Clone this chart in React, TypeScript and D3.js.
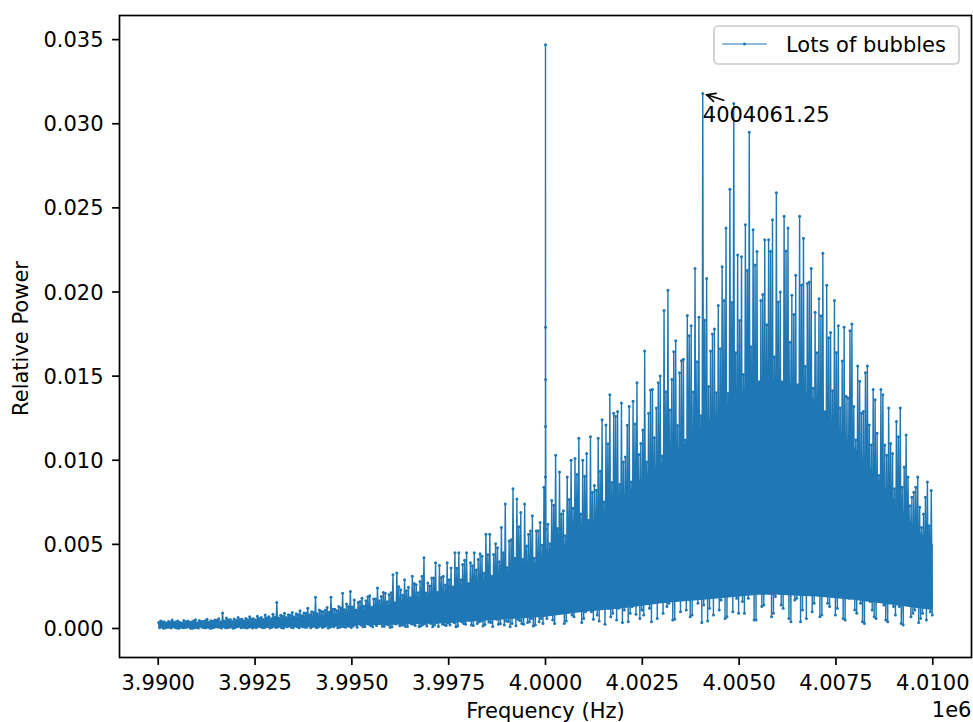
import React from 'react';
import * as d3 from 'd3';

// Sweep limits of the spectrum (Hz)
const sweepHz = [3990000, 4010000];
const binWidthHz = 100;
// Within each 100 Hz bin four samples are kept: an upper one, a lower one,
// the bin maximum and a second lower one, at these offsets (Hz)
const secHighOffsetHz = 11.25;
const troughOffsetHz = 36.25;
const peakOffsetHz = 61.25;
const secLowOffsetHz = 86.25;

// Bin maxima of relative power, units of 1e-3 (bin i starts at 3990000 + 100*i Hz)
const peakPower = [
  0.45, 0.38, 0.42, 0.5, 0.4, 0.36, 0.47, 0.44, 0.39, 0.52, 0.48, 0.41, 0.55, 0.46, 0.5, 0.58, 0.92, 0.62, 0.53, 0.57, 0.66, 0.55, 0.6, 0.7, 0.58,
  0.72, 0.65, 0.8, 0.7, 0.85, 1.55, 0.78, 0.9, 0.82, 0.95, 0.88, 1.05, 0.92, 1.2, 1.0, 1.85, 1.1, 0.98, 1.25, 1.85, 1.15, 1.3, 2.1, 1.45, 2.2,
  1.7, 1.55, 1.8, 1.65, 1.95, 1.75, 2.4, 1.9, 2.1, 2.0, 3.2, 3.3, 2.3, 2.9, 2.45, 3.1, 2.6, 2.8, 4.2, 2.7, 3.0, 3.9, 3.75, 3.1, 3.9,
  3.6, 4.5, 4.5, 3.8, 4.5, 3.9, 4.5, 4.1, 4.3, 5.6, 5.6, 4.4, 4.8, 6.0, 7.4, 5.2, 8.3, 7.7, 6.9, 7.4, 5.6, 6.7, 5.8, 6.3, 8.4,
  6.2, 7.6, 10.3, 9.3, 7.0, 9.0, 10.0, 10.1, 11.3, 10.0, 10.4, 11.4, 8.5, 11.3, 12.4, 12.1, 13.9, 12.8, 12.9, 13.4, 10.2, 13.2, 13.5, 14.6, 11.0,
  16.5, 12.8, 14.2, 13.1, 15.0, 18.9, 20.1, 14.8, 17.1, 15.2, 16.0, 18.6, 18.0, 21.4, 18.5, 31.8, 20.8, 16.5, 17.8, 19.2, 21.5, 23.8, 26.1, 31.2, 22.2,
  22.1, 24.0, 29.5, 23.7, 22.4, 19.5, 23.1, 23.1, 24.3, 25.9, 20.0, 24.5, 23.8, 19.8, 21.0, 24.5, 23.2, 20.5, 21.4, 18.8, 19.6, 22.3, 20.4, 17.6, 19.5,
  18.0, 15.9, 13.8, 17.7, 13.2, 15.6, 12.8, 15.2, 12.1, 14.2, 11.6, 14.2, 10.9, 13.1, 10.4, 12.3, 13.1, 9.6, 9.0, 7.8, 8.4, 7.2, 6.8, 8.7, 8.2,
];

// Second upper sample per bin, units of 1e-3
const secHighPower = [
  0.35, 0.4, 0.31, 0.38, 0.36, 0.44, 0.33, 0.39, 0.37, 0.45, 0.34, 0.41, 0.46, 0.37, 0.43, 0.49, 0.4, 0.45, 0.51, 0.42, 0.48, 0.54, 0.45, 0.52, 0.57,
  0.5, 0.6, 0.54, 0.64, 0.58, 0.68, 0.62, 0.73, 0.66, 0.78, 0.7, 0.83, 0.76, 0.9, 0.82, 0.95, 0.88, 1.02, 1.08, 0.96, 1.14, 1.05, 1.22, 1.12, 1.3,
  1.27, 1.1, 1.61, 1.32, 1.88, 1.26, 1.75, 1.65, 2.14, 1.59, 2.13, 1.53, 2.48, 1.97, 2.25, 1.82, 2.67, 2.12, 3.1, 2.11, 2.53, 3.0, 2.16, 3.03, 2.59,
  2.9, 2.47, 3.58, 2.9, 4.06, 2.68, 3.73, 3.47, 4.44, 3.29, 4.38, 3.11, 5.04, 3.96, 4.5, 3.62, 5.28, 4.17, 6.05, 4.11, 4.91, 5.79, 4.17, 5.81, 4.94,
  5.9, 5.03, 7.32, 5.94, 6.8, 5.51, 7.67, 7.15, 9.16, 6.8, 9.05, 6.43, 8.1, 8.22, 9.34, 7.52, 10.98, 8.68, 12.61, 8.57, 9.9, 12.08, 8.71, 12.16, 10.34,
  11.8, 9.9, 14.18, 11.34, 14.6, 10.25, 14.07, 12.99, 16.45, 12.07, 15.92, 11.2, 17.4, 14.05, 15.85, 12.65, 18.32, 14.38, 17.5, 14.01, 16.63, 19.5, 13.97, 19.38, 16.39,
  18.3, 15.09, 21.28, 16.74, 21.6, 14.66, 19.85, 18.05, 22.42, 16.15, 19.4, 14.29, 22.44, 17.02, 18.67, 14.48, 20.41, 15.58, 20.6, 14.28, 16.39, 18.59, 12.88, 17.28, 14.13,
  16.4, 13.1, 17.9, 13.7, 18.1, 11.2, 14.7, 12.9, 15.6, 10.9, 13.6, 9.1, 13.9, 10.3, 11.0, 8.3, 11.4, 8.4, 11.5, 7.3, 8.1, 9.0, 6.0, 7.8, 6.1,
];

// Bin minima, units of 1e-3
const troughPower = [
  0.05, 0.02, 0.08, 0.03, 0.06, 0.01, 0.04, 0.07, 0.02, 0.05, 0.03, 0.08, 0.04, 0.02, 0.06, 0.09, 0.03, 0.05, 0.07, 0.02, 0.1, 0.04, 0.06, 0.08, 0.03,
  0.05, 0.1, 0.04, 0.12, 0.08, 0.06, 0.14, 0.03, 0.1, 0.07, 0.15, 0.05, 0.11, 0.08, 0.04, 0.13, 0.09, 0.06, 0.16, 0.07, 0.1, 0.05, 0.12, 0.08, 0.14,
  0.15, 0.08, 0.2, 0.12, 0.25, 0.1, 0.18, 0.3, 0.14, 0.22, 0.09, 0.26, 0.16, 0.2, 0.12, 0.28, 0.18, 0.1, 0.24, 0.15, 0.3, 0.2, 0.12, 0.26, 0.18,
  0.2, 0.35, 0.15, 0.4, 0.25, 0.5, 0.18, 0.3, 0.45, 0.22, 0.38, 0.12, 0.55, 0.28, 0.2, 0.42, 0.3, 0.16, 0.48, 0.25, 0.35, 0.6, 0.2, 0.4, 0.3,
  0.6, 1.2, 0.3, 0.9, 1.5, 0.45, 1.1, 0.7, 1.8, 0.35, 1.0, 1.4, 0.55, 0.8, 1.6, 0.25, 1.2, 0.9, 0.5, 1.7, 1.1, 0.4, 1.3, 0.85, 0.6,
  0.8, 2.1, 0.4, 1.6, 2.8, 0.9, 1.3, 2.4, 0.55, 1.9, 3.0, 1.1, 0.7, 2.2, 1.5, 0.35, 2.6, 1.2, 0.8, 2.9, 1.7, 0.6, 2.3, 1.0, 1.8,
  2.5, 0.9, 1.8, 3.1, 0.5, 2.2, 1.4, 2.8, 0.7, 1.9, 3.2, 1.2, 2.4, 0.4, 1.7, 2.9, 1.1, 0.6, 2.5, 1.5, 3.0, 0.8, 2.0, 1.3, 2.6,
  1.2, 2.4, 0.5, 1.8, 2.7, 0.9, 1.5, 0.3, 2.1, 1.1, 0.6, 2.3, 1.4, 0.4, 1.9, 0.8, 1.3, 0.2, 1.6, 0.7, 1.1, 0.35, 0.9, 0.5, 1.0,
];

// Second lower sample per bin, units of 1e-3
const secLowPower = [
  0.1, 0.04, 0.07, 0.12, 0.03, 0.09, 0.06, 0.11, 0.02, 0.08, 0.13, 0.05, 0.09, 0.03, 0.11, 0.07, 0.12, 0.04, 0.1, 0.06, 0.13, 0.08, 0.03, 0.11, 0.09,
  0.14, 0.06, 0.11, 0.03, 0.15, 0.09, 0.05, 0.13, 0.17, 0.04, 0.1, 0.14, 0.07, 0.18, 0.12, 0.05, 0.16, 0.1, 0.03, 0.14, 0.19, 0.08, 0.12, 0.17, 0.06,
  0.22, 0.3, 0.1, 0.35, 0.18, 0.28, 0.4, 0.14, 0.26, 0.08, 0.32, 0.45, 0.2, 0.12, 0.38, 0.25, 0.5, 0.16, 0.3, 0.42, 0.1, 0.36, 0.55, 0.22, 0.33,
  0.45, 0.1, 0.6, 0.3, 0.75, 0.2, 0.65, 0.4, 0.15, 0.8, 0.35, 0.7, 0.25, 0.9, 0.45, 0.1, 0.85, 0.55, 0.3, 1.0, 0.4, 0.15, 0.95, 0.6, 0.8,
  1.4, 0.5, 2.0, 1.1, 0.3, 1.7, 0.8, 2.2, 1.3, 0.6, 1.9, 1.0, 2.4, 0.45, 1.5, 2.1, 0.7, 1.8, 1.2, 0.35, 2.3, 0.9, 1.6, 2.6, 1.1,
  2.4, 1.2, 3.2, 0.6, 2.0, 3.4, 1.5, 0.5, 2.7, 1.0, 2.2, 3.6, 0.8, 1.9, 3.0, 1.4, 0.45, 2.5, 3.3, 1.1, 2.8, 0.7, 3.5, 2.0, 0.9,
  1.6, 3.4, 2.2, 0.5, 3.0, 1.3, 3.7, 2.1, 0.9, 2.6, 1.4, 3.5, 0.6, 2.9, 1.8, 0.4, 3.2, 2.3, 1.0, 3.6, 0.7, 2.7, 1.5, 3.3, 0.8,
  2.9, 0.6, 2.2, 3.1, 1.1, 2.5, 0.4, 2.8, 1.6, 0.7, 2.6, 1.9, 0.5, 2.2, 1.3, 2.4, 0.3, 1.8, 2.3, 0.9, 1.7, 0.6, 1.4, 1.9, 0.8,
];

// Samples around the 4 MHz carrier line
const carrierHz = [3999997.5, 3999998.75, 4000000, 4000001.25, 4000002.5];
const carrierPower = [9.0, 12.0, 34.7, 17.9, 14.8];

// Dense core of the spectrum, sampled every 500 Hz (units of 1e-3)
const coreStepHz = 500;
const coreTop = [
  0.28, 0.29, 0.3, 0.32, 0.36, 0.42, 0.48, 0.56, 0.68, 0.82, 1.0, 1.2, 1.42, 1.68, 1.95, 2.25, 2.6, 2.95, 3.3, 3.7, 4.1,
  5.0, 5.9, 6.9, 7.9, 9.0, 9.9, 10.8, 11.8, 13.0, 14.0, 14.6, 14.8, 14.5, 13.5, 12.1, 10.7, 9.2, 7.7, 6.1, 5.0,
];
const coreBottom = [
  0.08, 0.08, 0.09, 0.1, 0.1, 0.12, 0.13, 0.14, 0.15, 0.16, 0.18, 0.2, 0.22, 0.25, 0.28, 0.32, 0.4, 0.48, 0.55, 0.62, 0.7,
  0.85, 1.0, 1.1, 1.2, 1.35, 1.5, 1.6, 1.7, 1.8, 1.9, 2.0, 2.0, 1.95, 1.9, 1.8, 1.7, 1.55, 1.4, 1.25, 1.1,
];

// Labelled maximum
const markedHz = 4004061.25;
const markedLabelPower = 30.1;

const xTicks = d3.range(3990000, 4010001, 2500);
const yTicks = d3.range(0, 0.03501, 0.005);

const seriesName = 'Lots of bubbles';
const xTitle = 'Frequency (Hz)';
const yTitle = 'Relative Power';

const BLUE = '#1f77b4';
const FONT = 'DejaVu Sans, sans-serif';

type Pt = { f: number; p: number };

function buildSeries(): Pt[] {
  const pts: Pt[] = [];
  peakPower.forEach((pk, i) => {
    const base = sweepHz[0] + i * binWidthHz;
    pts.push({ f: base + secHighOffsetHz, p: secHighPower[i] / 1000 });
    pts.push({ f: base + troughOffsetHz, p: troughPower[i] / 1000 });
    pts.push({ f: base + peakOffsetHz, p: pk / 1000 });
    pts.push({ f: base + secLowOffsetHz, p: secLowPower[i] / 1000 });
  });
  carrierHz.forEach((f, i) => pts.push({ f, p: carrierPower[i] / 1000 }));
  pts.sort((a, b) => a.f - b.f);
  return pts;
}

export default function App() {
  const W = 973;
  const H = 722;
  const ax = { left: 119.5, right: 971.5, top: 15.5, bottom: 657.5 };

  const series = buildSeries();
  const core = coreTop.map((t, k) => ({
    f: sweepHz[0] + k * coreStepHz,
    lo: coreBottom[k] / 1000,
    hi: t / 1000,
  }));

  const xPad = (sweepHz[1] - sweepHz[0]) * 0.05;
  const x = d3
    .scaleLinear()
    .domain([sweepHz[0] - xPad, sweepHz[1] + xPad])
    .range([ax.left, ax.right]);

  const allP = series.map((d) => d.p).concat(core.map((d) => d.lo), core.map((d) => d.hi));
  const [pMin, pMax] = d3.extent(allP) as [number, number];
  const yPad = (pMax - pMin) * 0.05;
  const y = d3
    .scaleLinear()
    .domain([pMin - yPad, pMax + yPad])
    .range([ax.bottom, ax.top]);

  const linePath = d3
    .line<Pt>()
    .x((d) => x(d.f))
    .y((d) => y(d.p))(series) as string;

  const corePath = d3
    .area<{ f: number; lo: number; hi: number }>()
    .x((d) => x(d.f))
    .y0((d) => y(d.lo))
    .y1((d) => y(d.hi))(core) as string;

  // annotation geometry
  const marked = series.find((d) => Math.abs(d.f - markedHz) < 0.01)!;
  const px = x(marked.f);
  const py = y(marked.p);
  const tx = x(markedHz);
  const ty = y(markedLabelPower / 1000);
  const labelCenter = [tx + 64, ty - 8];
  const dx = labelCenter[0] - px;
  const dy = labelCenter[1] - py;
  const len = Math.hypot(dx, dy);
  const ux = dx / len;
  const uy = dy / len;
  const tip = [px + ux * 4.2, py + uy * 4.2];
  const tail = [px + ux * 22, py + uy * 22];
  const hl = 8.4;
  const hw = 4.2;
  const arm1 = [tip[0] + ux * hl - uy * hw, tip[1] + uy * hl + ux * hw];
  const arm2 = [tip[0] + ux * hl + uy * hw, tip[1] + uy * hl - ux * hw];

  const fs = 21;
  const tickLen = 7.4;

  // legend placement
  const lg = { x: ax.right - 12.5 - 245, y: ax.top + 10.5, w: 245, h: 38 };

  return (
    <svg
      width={W}
      height={H}
      viewBox={`0 0 ${W} ${H}`}
      style={{ position: 'absolute', left: 0, top: 0, background: '#fff' }}
      fontFamily={FONT}
    >
      <rect x={0} y={0} width={W} height={H} fill="#fff" />

      {/* spectrum */}
      <path d={corePath} fill={BLUE} stroke="none" />
      <path d={linePath} fill="none" stroke={BLUE} strokeWidth={1.4} strokeLinejoin="round" />
      <g fill={BLUE}>
        {series.map((d, i) => (
          <circle key={i} cx={x(d.f)} cy={y(d.p)} r={1.5} />
        ))}
      </g>

      {/* annotation */}
      <g stroke="#000" strokeWidth={1.7} fill="none" strokeLinecap="round">
        <line x1={tail[0]} y1={tail[1]} x2={tip[0]} y2={tip[1]} />
        <polyline points={`${arm1[0]},${arm1[1]} ${tip[0]},${tip[1]} ${arm2[0]},${arm2[1]}`} />
      </g>
      <text x={tx} y={ty} fontSize={fs} fill="#000">
        {markedHz.toFixed(2)}
      </text>

      {/* frame */}
      <rect
        x={ax.left}
        y={ax.top}
        width={ax.right - ax.left}
        height={ax.bottom - ax.top}
        fill="none"
        stroke="#000"
        strokeWidth={1.7}
      />

      {/* x axis */}
      <g>
        {xTicks.map((t) => (
          <g key={t} transform={`translate(${x(t)},${ax.bottom})`}>
            <line y1={0} y2={tickLen} stroke="#000" strokeWidth={1.7} />
            <text y={32.5} textAnchor="middle" fontSize={fs} fill="#000">
              {(t / 1e6).toFixed(4)}
            </text>
          </g>
        ))}
        <text x={(ax.left + ax.right) / 2} y={718} textAnchor="middle" fontSize={fs} fill="#000">
          {xTitle}
        </text>
        <text x={ax.right} y={717} textAnchor="end" fontSize={fs} fill="#000">
          1e6
        </text>
      </g>

      {/* y axis */}
      <g>
        {yTicks.map((t) => (
          <g key={t} transform={`translate(${ax.left},${y(t)})`}>
            <line x1={0} x2={-tickLen} stroke="#000" strokeWidth={1.7} />
            <text x={-16} dy="0.36em" textAnchor="end" fontSize={fs} fill="#000">
              {t.toFixed(3)}
            </text>
          </g>
        ))}
        <text
          transform={`translate(28,${(ax.top + ax.bottom) / 2 + 2}) rotate(-90)`}
          textAnchor="middle"
          fontSize={fs}
          fill="#000"
        >
          {yTitle}
        </text>
      </g>

      {/* legend */}
      <g>
        <rect
          x={lg.x}
          y={lg.y}
          width={lg.w}
          height={lg.h}
          rx={4.5}
          fill="#fff"
          fillOpacity={0.8}
          stroke="#cccccc"
          strokeWidth={1.7}
        />
        <line x1={lg.x + 8} x2={lg.x + 53} y1={lg.y + 18} y2={lg.y + 18} stroke={BLUE} strokeWidth={1} />
        <circle cx={lg.x + 30.5} cy={lg.y + 18} r={1.5} fill={BLUE} />
        <text x={lg.x + 72} y={lg.y + 26} fontSize={fs} fill="#000">
          {seriesName}
        </text>
      </g>
    </svg>
  );
}
